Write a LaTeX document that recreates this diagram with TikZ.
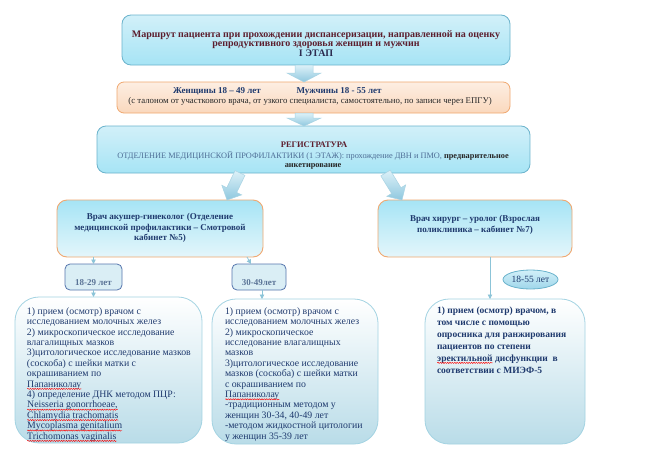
\documentclass[tikz,border=0pt]{standalone}
\usepackage{fontspec}
\setmainfont{Liberation Serif}
\usetikzlibrary{calc,shapes.geometric,arrows.meta,decorations.pathmorphing}
\definecolor{tealb}{HTML}{6BB3CC}
\definecolor{cyanT}{HTML}{D2F0F9}
\definecolor{cyanB}{HTML}{A6E4F5}
\definecolor{docB}{HTML}{E4F6FB}
\definecolor{orgB}{HTML}{F0A870}
\definecolor{peachT}{HTML}{FDEEE2}
\definecolor{peachB}{HTML}{FAD8BD}
\definecolor{maroon}{HTML}{5C1E2E}
\definecolor{etap}{HTML}{2C2C50}
\definecolor{navy}{HTML}{1F3A6E}
\definecolor{grayblue}{HTML}{4E6E96}
\definecolor{agebd}{HTML}{5575AD}
\definecolor{agefill}{HTML}{DAEEF5}
\definecolor{agetxt}{HTML}{5A7396}
\definecolor{bigbd}{HTML}{A3D3E2}
\definecolor{bigB}{HTML}{B9DCE8}
\definecolor{arrowc}{HTML}{8CC4D8}
\definecolor{barT}{HTML}{DDF1F8}
\definecolor{barB}{HTML}{8FC8DF}
\definecolor{barD}{HTML}{A8D3E3}
\definecolor{ellB}{HTML}{9FD6EA}
\newcommand\redwave[1]{\tikz[baseline=(w.base)]{\node[inner sep=0pt,outer sep=0pt] (w) {#1};
  \draw[red,line width=0.45pt,decorate,decoration={snake,amplitude=0.6pt,segment length=2.4pt}]
  ([yshift=-1.8pt]w.base west) -- ([yshift=-1.8pt]w.base east);}}
\newcommand\blockarrow[5]{%
  \coordinate (bah) at ($(#2)!#5!(#1)$);
  \path[blockarr] ($(#1)!#3!90:(#2)$) -- ($(bah)!#3!90:(#2)$) -- ($(bah)!#4!90:(#2)$) -- (#2)
    -- ($(bah)!#4!-90:(#2)$) -- ($(bah)!#3!-90:(#2)$) -- ($(#1)!#3!-90:(#2)$) -- cycle;}
\begin{document}
\begin{tikzpicture}[x=1pt,y=-1pt,
  every node/.style={inner sep=0pt,outer sep=0pt},
  bluebox/.style={draw=tealb,line width=0.8pt,rounded corners=9pt,top color=cyanT,bottom color=cyanB},
  peachbox/.style={draw=orgB,line width=0.8pt,rounded corners=7pt,top color=peachT,bottom color=peachB},
  docbox/.style={draw=orgB,line width=0.9pt,rounded corners=10pt,top color=cyanB,bottom color=docB},
  agebox/.style={draw=agebd,line width=0.8pt,rounded corners=5pt,fill=agefill},
  bigbox/.style={draw=bigbd,line width=0.8pt,rounded corners=24pt,top color=white,bottom color=bigB},
  thinarrow/.style={draw=arrowc,line width=0.8pt,-{Triangle[length=4.5pt,width=4.5pt]}},
  blockarr/.style={draw=barD,line width=0.5pt,top color=barT,bottom color=barB},
  bigtxt/.style={align=left,text=navy,font=\fontsize{9.8}{10.4}\selectfont},
  ]
\useasboundingbox (0,0) rectangle (656,466);
\fill[white] (0,0) rectangle (656,466);

% boxes
\node[bluebox,minimum width=388pt,minimum height=50pt] (title) at (316,40) {};
\node[peachbox,minimum width=393pt,minimum height=31pt] (talon) at (313.5,97.5) {};
\node[bluebox,minimum width=433pt,minimum height=47pt] (reg) at (313.5,149.5) {};
\node[docbox,minimum width=206pt,minimum height=57pt] (docL) at (160,228.5) {};
\node[docbox,minimum width=194pt,minimum height=57pt] (docR) at (475,228.5) {};
\node[agebox,minimum width=57pt,minimum height=26pt] (a1829) at (93.5,277) {};
\node[agebox,minimum width=54pt,minimum height=26pt] (a3049) at (259,277) {};
\node[ellipse,draw=tealb,line width=0.8pt,top color=cyanT,bottom color=ellB,minimum width=55pt,minimum height=19pt] (a1855) at (530.5,279.5) {};
\node[bigbox,minimum width=187pt,minimum height=146pt] (bigL) at (108.5,370) {};
\node[bigbox,minimum width=166pt,minimum height=145pt] (bigM) at (295,371.5) {};
\node[bigbox,minimum width=160pt,minimum height=145pt] (bigR) at (505,371.5) {};

% block arrows
\blockarrow{[xshift=-12pt]title.south}{[xshift=-9.5pt]talon.north}{9pt}{17pt}{9pt}
\blockarrow{[xshift=-9.5pt]talon.south}{[xshift=-9.5pt]reg.north}{9pt}{17pt}{8pt}
\blockarrow{[xshift=-73.5pt]reg.south}{[xshift=67pt]docL.north}{5.5pt}{11pt}{11pt}
\blockarrow{[xshift=72pt]reg.south}{[xshift=-73pt]docR.north}{5.5pt}{11pt}{11pt}

% thin arrows
\draw[thinarrow] (a1829.north |- docL.south) -- (a1829.north);
\draw[thinarrow] (a1829.south) -- (a1829.south |- bigL.north);
\draw[thinarrow] ([xshift=-12pt]a3049.north |- docL.south) -- ([xshift=-8pt]a3049.north);
\draw[thinarrow] ([xshift=3pt]a3049.south) -- ([xshift=3pt]a3049.south |- bigM.north);
\draw[thinarrow] ([xshift=-15pt]bigR.north |- docR.south) -- ([xshift=-15pt]bigR.north);

% texts
\node[align=center,text=maroon,font=\bfseries\fontsize{10}{8.6}\selectfont] (titletxt) at (316,43.5)
  {Маршрут пациента при прохождении диспансеризации, направленной на оценку\\
   репродуктивного здоровья женщин и мужчин\\ \textcolor{etap}{I ЭТАП}};
\node[text=navy,font=\bfseries\fontsize{9}{10}\selectfont] (women) at (217,91) {Женщины 18 – 49 лет};
\node[text=navy,font=\bfseries\fontsize{9}{10}\selectfont] (men) at (339,91) {Мужчины 18 - 55 лет};
\node[text=black!85,font=\fontsize{8.8}{10}\selectfont] (talontxt) at (310,101)
  {(с талоном от участкового врача, от узкого специалиста, самостоятельно, по записи через ЕПГУ)};
\node[text=maroon,font=\bfseries\fontsize{8.5}{10}\selectfont] (regtxt) at (314,145) {РЕГИСТРАТУРА};
\node[text=grayblue,font=\fontsize{8.3}{10}\selectfont] (regline) at (313,156)
  {ОТДЕЛЕНИЕ МЕДИЦИНСКОЙ ПРОФИЛАКТИКИ (1 ЭТАЖ): прохождение ДВН и ПМО, \textcolor{black!85}{\bfseries предварительное}};
\node[text=black!85,font=\bfseries\fontsize{8.3}{10}\selectfont] (regline2) at (313,166.5) {анкетирование};
\node[align=center,text=navy,font=\bfseries\fontsize{9}{10.5}\selectfont] (docLtxt) at (160,228)
  {Врач акушер-гинеколог (Отделение\\ медицинской профилактики – Смотровой\\ кабинет №5)};
\node[align=center,text=navy,font=\bfseries\fontsize{9}{10.5}\selectfont] (docRtxt) at (475,225)
  {Врач хирург – уролог (Взрослая\\ поликлиника – кабинет №7)};
\node[text=agetxt,font=\bfseries\fontsize{9}{10}\selectfont] (t1829) at (93.5,282.5) {18-29 лет};
\node[text=agetxt,font=\bfseries\fontsize{9}{10}\selectfont] (t3049) at (259,282.5) {30-49лет};
\node[text=navy,font=\fontsize{9.5}{10}\selectfont] (t1855) at (530.5,279.5) {18-55 лет};

\node[bigtxt,anchor=north west] (txtL) at (27,307.5)
  {1) прием (осмотр) врачом с\\ исследованием молочных желез\\ 2) микроскопическое исследование\\
   влагалищных мазков\\ 3)цитологическое исследование мазков\\ (соскоба) с шейки матки с\\
   окрашиванием по\\ \redwave{Папаниколау}\\ 4) определение ДНК методом ПЦР:\\
   \redwave{Neisseria gonorrhoeae,}\\ \redwave{Chlamydia trachomatis}\\ \redwave{Mycoplasma genitalium}\\
   \redwave{Trichomonas vaginalis}};
\node[bigtxt,anchor=north west] (txtM) at (225,307.5)
  {1) прием (осмотр) врачом с\\ исследованием молочных желез\\ 2) микроскопическое\\
   исследование влагалищных\\ мазков\\ 3)цитологическое исследование\\ мазков (соскоба) с шейки матки\\
   с окрашиванием по\\ \redwave{Папаниколау}\\ -традиционным методом у\\ женщин 30-34, 40-49 лет\\
   -методом жидкостной цитологии\\ у женщин 35-39 лет};
\node[bigtxt,anchor=north west,font=\bfseries\fontsize{9.5}{12}\selectfont] (txtR) at (437,306.5)
  {1) прием (осмотр) врачом, в\\ том числе с помощью\\ опросника для ранжирования\\
   пациентов по степени\\ \redwave{эректильной} дисфункции\ \ в\\ соответствии с МИЭФ-5};
\end{tikzpicture}
\end{document}
